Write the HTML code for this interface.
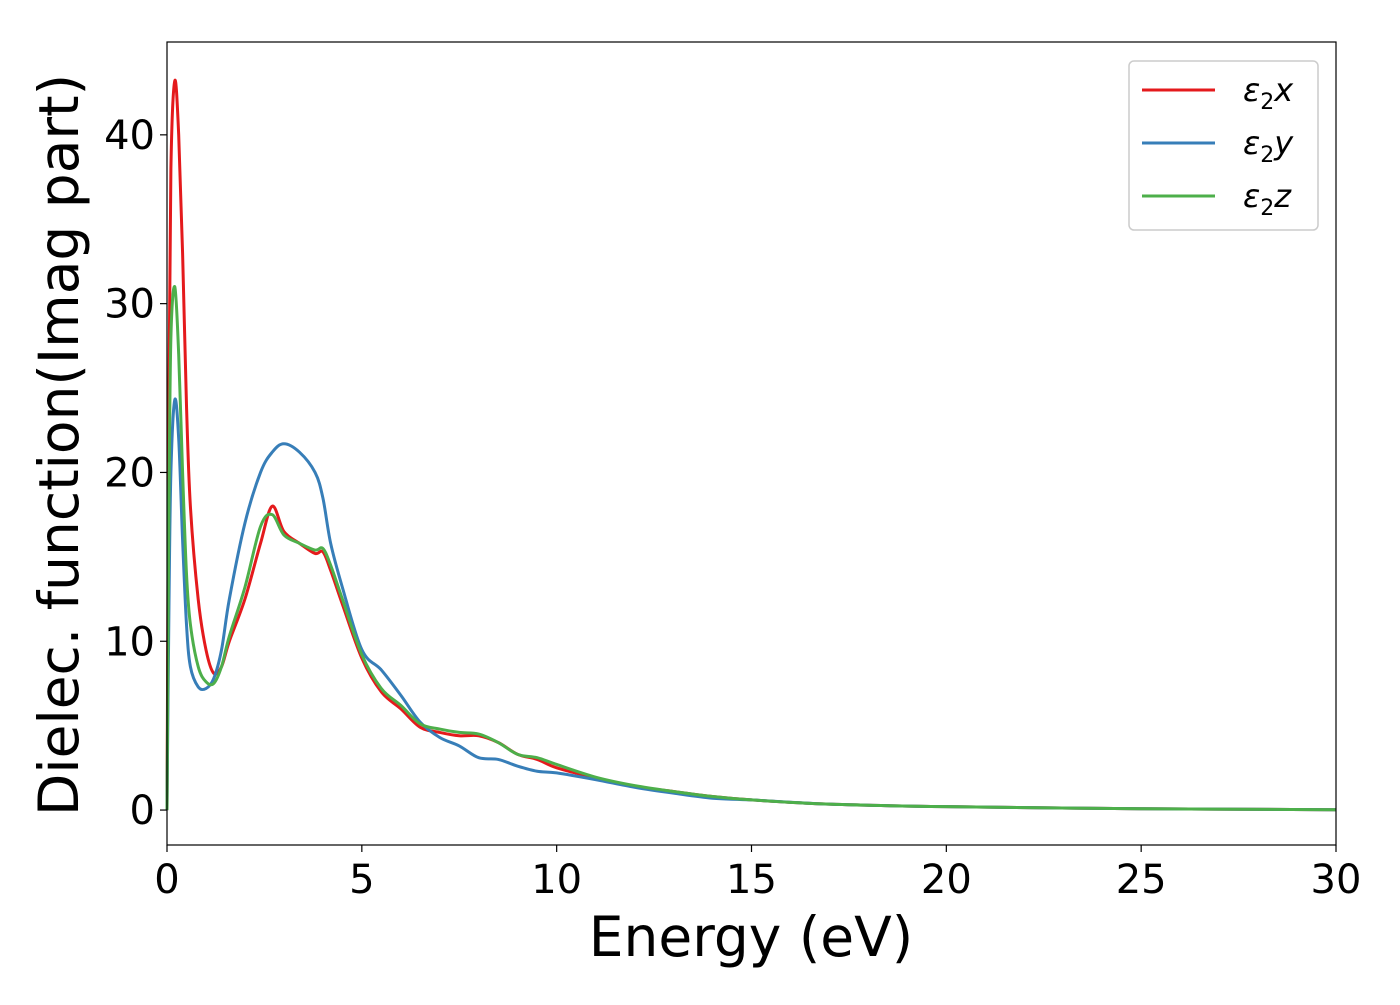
<!DOCTYPE html>
<html><head><meta charset="utf-8"><style>
body{margin:0;background:#fff;font-family:"Liberation Sans","DejaVu Sans",sans-serif}
</style></head><body>
<svg id="chart" width="1400" height="1000" xmlns="http://www.w3.org/2000/svg" font-family="'DejaVu Sans','Liberation Sans',sans-serif">
<rect width="1400" height="1000" fill="#fff"/>
<g id="plot"></g>
<g id="axes"></g>
<text x="751" y="956" font-size="55" text-anchor="middle">Energy (eV)</text>
<text transform="translate(78,445) rotate(-90)" font-size="55" text-anchor="middle">Dielec. function(Imag part)</text>
<g>
<rect x="1129" y="61" width="189" height="169" rx="5" fill="#fff" stroke="#ccc" stroke-width="1.5"/>
<line x1="1142" y1="90" x2="1215" y2="90" stroke="#e41a1c" stroke-width="3"/>
<text x="1243" y="101" font-size="32" font-style="italic">ε<tspan font-size="22" dy="8" font-style="normal">2</tspan><tspan dy="-8">x</tspan></text>
<line x1="1142" y1="143" x2="1215" y2="143" stroke="#377eb8" stroke-width="3"/>
<text x="1243" y="154" font-size="32" font-style="italic">ε<tspan font-size="22" dy="8" font-style="normal">2</tspan><tspan dy="-8">y</tspan></text>
<line x1="1142" y1="196" x2="1215" y2="196" stroke="#4daf4a" stroke-width="3"/>
<text x="1243" y="207" font-size="32" font-style="italic">ε<tspan font-size="22" dy="8" font-style="normal">2</tspan><tspan dy="-8">z</tspan></text>
</g>
</svg>
<script>
const energy=[0,0.05,0.1,0.2,0.3,0.4,0.5,0.6,0.8,1.0,1.2,1.4,1.6,2.0,2.4,2.7,3.0,3.4,3.8,4.0,4.2,4.5,5.0,5.5,6.0,6.5,7.0,7.5,8.0,8.5,9.0,9.5,10,11,12,13,14,15,17,20,25,30];
const eps2x=[0,25,38,43.2,40,33,24,18,12.5,9.5,8.1,8.5,10,12.5,15.8,18.0,16.5,15.8,15.2,15.3,14.2,12.2,9.0,7.0,6.0,4.9,4.6,4.4,4.4,4.0,3.3,3.0,2.5,1.9,1.4,1.1,0.8,0.6,0.35,0.2,0.08,0.02];
const eps2y=[0,12,20,24.3,22,16,11,8.5,7.3,7.2,7.8,9.5,12.5,17,20,21.2,21.7,21.2,20,18.5,15.8,13.2,9.5,8.3,6.8,5.2,4.3,3.8,3.1,3.0,2.6,2.3,2.2,1.8,1.35,1.0,0.7,0.6,0.35,0.2,0.08,0.02];
const eps2z=[0,18,28,31,27,20,14,11,8.5,7.6,7.5,8.5,10.3,13.2,16.8,17.5,16.3,15.8,15.4,15.5,14.5,12.5,9.2,7.2,6.2,5.1,4.8,4.6,4.5,4.0,3.3,3.1,2.7,1.95,1.45,1.1,0.8,0.6,0.35,0.2,0.08,0.02];
const xTicks=[0,5,10,15,20,25,30];
const yTicks=[0,10,20,30,40];
const L=167,R=1336,T=42,B=845,xMin=0,xMax=30,yMin=-2.07,yMax=45.5;
function sx(v){return L+(v-xMin)/(xMax-xMin)*(R-L);}
function sy(v){return B-(v-yMin)/(yMax-yMin)*(B-T);}
const NS="http://www.w3.org/2000/svg";
function path(ys){
  const p=energy.map((e,i)=>[sx(e),sy(ys[i])]);
  let d="M"+p[0][0]+","+p[0][1];
  for(let i=0;i<p.length-1;i++){
    const p0=p[i-1]||p[i],p1=p[i],p2=p[i+1],p3=p[i+2]||p2;
    const c1=[p1[0]+(p2[0]-p0[0])/6,p1[1]+(p2[1]-p0[1])/6];
    const c2=[p2[0]-(p3[0]-p1[0])/6,p2[1]-(p3[1]-p1[1])/6];
    d+=" C"+c1+" "+c2+" "+p2;
  }
  return d;
}
const plot=document.getElementById('plot');
[[eps2x,'#e41a1c','series-eps2x'],[eps2y,'#377eb8','series-eps2y'],[eps2z,'#4daf4a','series-eps2z']].forEach(s=>{
  const el=document.createElementNS(NS,'path');
  el.setAttribute('d',path(s[0]));el.setAttribute('fill','none');el.setAttribute('stroke',s[1]);el.setAttribute('stroke-width','3');
  
  
  plot.appendChild(el);
});
const axes=document.getElementById('axes');
const frame=document.createElementNS(NS,'rect');
frame.setAttribute('x',L);frame.setAttribute('y',T);frame.setAttribute('width',R-L);frame.setAttribute('height',B-T);
frame.setAttribute('fill','none');frame.setAttribute('stroke','#000');frame.setAttribute('stroke-width','1.2');


axes.appendChild(frame);
xTicks.forEach(t=>{
  const l=document.createElementNS(NS,'line');
  l.setAttribute('x1',sx(t));l.setAttribute('x2',sx(t));l.setAttribute('y1',B);l.setAttribute('y2',B+7);l.setAttribute('stroke','#000');l.setAttribute('stroke-width','1.2');
  
  
  axes.appendChild(l);
  const tx=document.createElementNS(NS,'text');
  tx.setAttribute('x',sx(t));tx.setAttribute('y',B+48);tx.setAttribute('font-size','40');tx.setAttribute('text-anchor','middle');tx.textContent=t;
  
  
  axes.appendChild(tx);
});
yTicks.forEach(t=>{
  const l=document.createElementNS(NS,'line');
  l.setAttribute('x1',L-7);l.setAttribute('x2',L);l.setAttribute('y1',sy(t));l.setAttribute('y2',sy(t));l.setAttribute('stroke','#000');l.setAttribute('stroke-width','1.2');
  
  
  axes.appendChild(l);
  const tx=document.createElementNS(NS,'text');
  tx.setAttribute('x',L-12);tx.setAttribute('y',sy(t)+14);tx.setAttribute('font-size','40');tx.setAttribute('text-anchor','end');tx.textContent=t;
  
  
  axes.appendChild(tx);
});
</script>
</body></html>
